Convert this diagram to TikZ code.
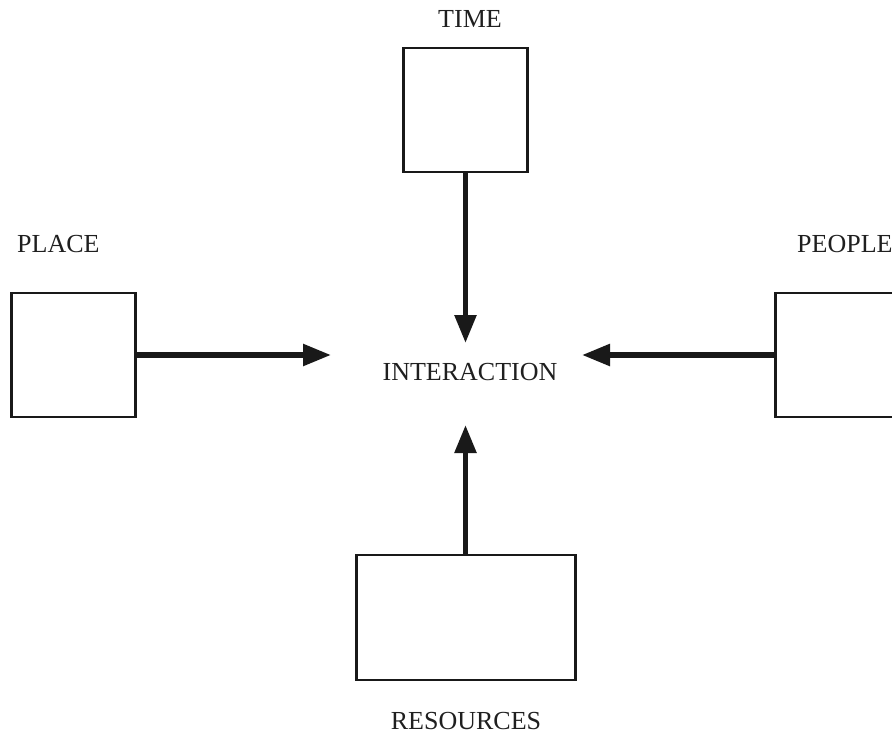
\documentclass[tikz,border=0pt]{standalone}
\usepackage{fontspec}
\setmainfont{Liberation Serif}
\usetikzlibrary{arrows.meta}
\begin{document}
\begin{tikzpicture}[x=1pt,y=-1pt,
  box/.style={draw=black!90,line width=2.8pt,inner sep=0pt,fill=white},
  lbl/.style={font=\fontsize{26}{30}\selectfont,text=black!88,inner sep=0pt},
  flow/.style={draw=black!90,line width=5.5pt,-{Triangle[length=28pt,width=21pt]}}]
\useasboundingbox (0,0) rectangle (892,734);
\clip (0,0) rectangle (892,734);
% boxes
\node[box,minimum width=124.5pt,minimum height=124pt] (time) at (465.5,110) {};
\node[box,minimum width=124.5pt,minimum height=124pt] (place) at (73.5,355) {};
\node[box,minimum width=124.5pt,minimum height=124pt] (people) at (838,355) {};
\node[box,minimum width=219.5pt,minimum height=125pt] (res) at (466,617.5) {};
% labels
\node[lbl,anchor=base] (timel) at (470,27) {TIME};
\node[lbl,anchor=base west] (placel) at (17,252) {PLACE};
\node[lbl,anchor=base west] (peoplel) at (797,252) {PEOPLE};
\node[lbl,anchor=base] (inter) at (470,380) {INTERACTION};
\node[lbl,anchor=base] (resl) at (466,729.5) {RESOURCES};
% arrow tips
\coordinate (ttip) at (465.5,343);
\coordinate (ptip) at (331,355);
\coordinate (qtip) at (582,355);
\coordinate (rtip) at (465.5,425);
% connectors
\draw[flow] (time.south) -- (ttip);
\draw[flow] (place.east) -- (ptip);
\draw[flow] (people.west) -- (qtip);
\draw[flow] (res.north -| rtip) -- (rtip);
\end{tikzpicture}
\end{document}
